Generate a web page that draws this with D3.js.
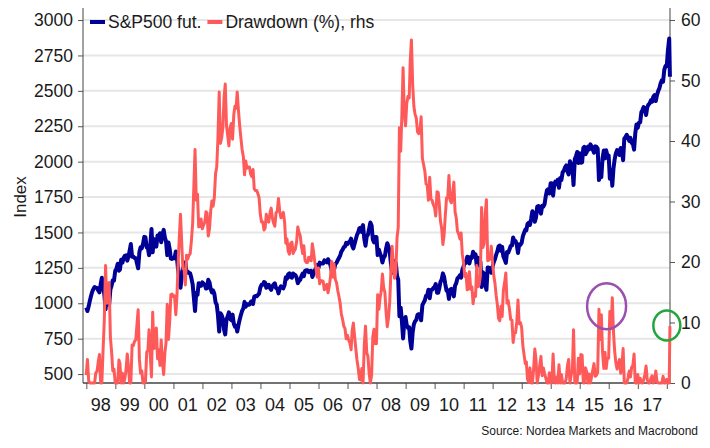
<!DOCTYPE html>
<html>
<head>
<meta charset="utf-8">
<script src="https://cdn.jsdelivr.net/npm/d3@7"></script>
<style>
  body { margin: 0; background: #fff; }
  svg { display: block; font-family: "Liberation Sans", Arial, sans-serif; }
</style>
</head>
<body>
<div id="chart"></div>
<script>
const width = 710
const height = 448

// S&P500 futures, two readings a month (15th and month end), from Dec 1997
const spx = [
  970,
  945, 980, 1020, 1049, 1080, 1101, 1115, 1111, 1108, 1090, 1077, 1133, 1180, 1120, 1065, 957, 1030, 1017, 990, 1098, 1125, 1163, 1160, 1229,
  1243, 1279, 1230, 1238, 1307, 1286, 1320, 1335, 1338, 1301, 1330, 1372, 1418, 1328, 1330, 1320, 1318, 1282, 1247, 1362, 1396, 1389, 1418, 1469,
  1465, 1394, 1389, 1340, 1400, 1525, 1360, 1452, 1450, 1400, 1478, 1455, 1495, 1431, 1484, 1518, 1465, 1437, 1340, 1429, 1383, 1315, 1313, 1320,
  1318, 1366, 1315, 1240, 1173, 1110, 1183, 1249, 1250, 1290, 1215, 1224, 1215, 1211, 1178, 1134, 1040, 945, 1075, 1060, 1142, 1139, 1123, 1148,
  1138, 1130, 1104, 1107, 1166, 1147, 1102, 1077, 1091, 1067, 1007, 990, 918, 800, 930, 916, 890, 815, 780, 885, 910, 936, 890, 880,
  920, 856, 834, 841, 800, 848, 885, 917, 946, 964, 1010, 975, 994, 990, 990, 1008, 1015, 996, 1046, 1051, 1050, 1058, 1068, 1112,
  1130, 1131, 1150, 1145, 1110, 1126, 1130, 1107, 1095, 1121, 1133, 1141, 1107, 1102, 1070, 1104, 1120, 1115, 1105, 1130, 1184, 1174, 1205, 1212,
  1185, 1181, 1210, 1204, 1200, 1181, 1142, 1157, 1165, 1192, 1210, 1191, 1228, 1234, 1233, 1220, 1228, 1229, 1186, 1207, 1232, 1249, 1270, 1248,
  1287, 1280, 1280, 1281, 1303, 1295, 1289, 1311, 1295, 1270, 1230, 1270, 1237, 1277, 1285, 1304, 1320, 1336, 1365, 1378, 1396, 1401, 1427, 1418,
  1431, 1438, 1456, 1407, 1387, 1421, 1452, 1482, 1501, 1531, 1533, 1503, 1552, 1455, 1406, 1474, 1484, 1527, 1570, 1549, 1451, 1430, 1468, 1468,
  1340, 1379, 1349, 1331, 1288, 1323, 1334, 1386, 1424, 1400, 1360, 1280, 1215, 1267, 1298, 1283, 1193, 1166, 908, 969, 873, 752, 870, 903,
  845, 826, 830, 735, 680, 798, 852, 873, 882, 919, 923, 919, 880, 987, 1004, 1021, 1053, 1057, 1096, 1036, 1093, 1096, 1107, 1115,
  1136, 1074, 1075, 1104, 1150, 1169, 1211, 1187, 1136, 1089, 1090, 1031, 1096, 1102, 1080, 1049, 1125, 1141, 1176, 1183, 1197, 1181, 1235, 1258,
  1293, 1286, 1328, 1327, 1281, 1326, 1320, 1364, 1337, 1345, 1265, 1321, 1316, 1292, 1115, 1219, 1209, 1131, 1095, 1253, 1251, 1247, 1215, 1258,
  1290, 1312, 1344, 1366, 1402, 1408, 1370, 1398, 1330, 1310, 1285, 1362, 1357, 1379, 1405, 1407, 1465, 1441, 1440, 1412, 1355, 1416, 1413, 1426,
  1472, 1498, 1520, 1515, 1560, 1569, 1553, 1598, 1650, 1631, 1575, 1606, 1682, 1686, 1661, 1633, 1688, 1682, 1698, 1757, 1798, 1806, 1775, 1848,
  1848, 1760, 1838, 1859, 1841, 1872, 1815, 1884, 1870, 1924, 1937, 1960, 1973, 1931, 1910, 2003, 1985, 1972, 1835, 2018, 2039, 2068, 1990, 2059,
  1992, 1995, 2096, 2105, 2053, 2068, 2106, 2086, 2122, 2107, 2084, 2063, 2108, 2104, 2092, 1870, 1978, 1890, 2023, 2079, 2023, 2080, 2043, 2044,
  1880, 1940, 1830, 1948, 2015, 2060, 2081, 2065, 2047, 2097, 2071, 2010, 2162, 2174, 2190, 2171, 2147, 2168, 2133, 2126, 2085, 2199, 2262, 2239,
  2275, 2279, 2350, 2364, 2385, 2363, 2329, 2384, 2403, 2412, 2433, 2423, 2459, 2470, 2428, 2472, 2500, 2519, 2553, 2575, 2565, 2648, 2675, 2674,
  2786, 2870, 2600
]

// drawdown from the running peak, %, same dates
const drawdown = [
  1.3,
  3.9, 0.3, 0, 0, 0, 0, 0, 1.7, 1.9, 3.5, 4.7, 0, 0, 5.6, 10.3, 19.4, 13.2, 14.3, 16.6, 7.5, 5.2, 2.0, 2.3, 0,
  0, 0, 3.8, 3.2, 0, 1.6, 0, 0.7, 2.1, 4.8, 2.7, 0, 0, 6.3, 6.2, 6.9, 7.1, 9.6, 12.1, 3.9, 1.6, 2.0, 0, 0,
  0.3, 5.1, 5.4, 8.8, 4.7, 1.0, 11.7, 5.7, 5.8, 9.1, 4.0, 5.5, 2.9, 7.1, 3.6, 1.4, 4.9, 6.7, 13.0, 7.2, 10.2, 14.6, 14.7, 14.3,
  14.4, 11.3, 14.6, 19.5, 23.8, 27.9, 23.2, 18.9, 18.8, 16.2, 21.1, 20.5, 21.1, 21.4, 23.5, 26.4, 32.5, 38.6, 30.2, 31.2, 25.8, 26.0, 27.1, 25.5,
  26.1, 26.6, 28.3, 28.1, 24.3, 25.5, 28.4, 30.1, 29.2, 30.7, 34.6, 35.7, 40.4, 48.1, 39.6, 40.5, 42.2, 47.1, 49.4, 42.5, 40.9, 39.2, 42.2, 42.9,
  40.3, 44.4, 45.8, 45.4, 48.1, 44.9, 42.5, 40.5, 38.6, 37.4, 34.4, 36.7, 35.5, 35.7, 35.7, 34.5, 34.1, 35.3, 32.1, 31.8, 31.8, 31.3, 30.6, 27.8,
  26.6, 26.6, 25.3, 25.6, 27.9, 26.9, 26.6, 28.1, 28.9, 27.2, 26.4, 25.9, 28.1, 28.4, 30.5, 28.3, 27.3, 27.6, 28.2, 26.6, 23.1, 23.8, 21.8, 21.3,
  23.1, 23.3, 21.4, 21.8, 22.1, 23.3, 25.8, 24.9, 24.4, 22.6, 21.4, 22.7, 20.3, 19.9, 19.9, 20.8, 20.3, 20.2, 23.0, 21.6, 20.0, 18.9, 17.5, 19.0,
  16.4, 16.9, 16.9, 16.8, 15.4, 15.9, 16.3, 14.9, 15.9, 17.5, 20.1, 17.5, 19.7, 17.1, 16.6, 15.3, 14.3, 13.2, 11.4, 10.5, 9.4, 9.0, 7.3, 7.9,
  7.1, 6.6, 5.5, 8.6, 9.9, 7.7, 5.7, 3.8, 2.5, 0.6, 0.5, 2.4, 0, 6.3, 9.4, 5.0, 4.4, 1.6, 0, 1.3, 7.6, 8.9, 6.5, 6.5,
  14.6, 12.2, 14.1, 15.2, 18.0, 15.7, 15.0, 11.7, 9.3, 10.8, 13.4, 18.5, 22.6, 19.3, 17.3, 18.3, 24.0, 25.7, 42.2, 38.3, 44.4, 52.1, 44.6, 42.5,
  46.2, 47.4, 47.1, 53.2, 56.7, 49.2, 45.7, 44.4, 43.8, 41.5, 41.2, 41.5, 44.0, 37.1, 36.1, 35.0, 32.9, 32.7, 30.2, 34.0, 30.4, 30.2, 29.5, 29.0,
  27.6, 31.6, 31.5, 29.7, 26.8, 25.5, 22.9, 24.4, 27.6, 30.6, 30.6, 34.3, 30.2, 29.8, 31.2, 33.2, 28.3, 27.3, 25.1, 24.6, 23.8, 24.8, 21.3, 19.9,
  17.6, 18.1, 15.4, 15.5, 18.4, 15.5, 15.9, 13.1, 14.8, 14.3, 19.4, 15.9, 16.2, 17.7, 29.0, 22.4, 23.0, 28.0, 30.3, 20.2, 20.3, 20.6, 22.6, 19.9,
  17.8, 16.4, 14.4, 13.0, 10.7, 10.3, 12.7, 11.0, 15.3, 16.6, 18.2, 13.2, 13.6, 12.2, 10.5, 10.4, 6.7, 8.2, 8.3, 10.1, 13.7, 9.8, 10.0, 9.2,
  6.2, 4.6, 3.2, 3.5, 0.6, 0.1, 2.5, 0, 0, 2.3, 5.6, 3.8, 0, 1.3, 2.8, 4.4, 1.2, 2.5, 1.6, 0.8, 0, 0, 1.7, 0,
  0, 4.8, 0.5, 0, 1.0, 0, 3.0, 0, 1.4, 0, 0, 0, 0.7, 2.9, 3.9, 0, 1.3, 1.9, 8.8, 0, 0, 0, 4.1, 1.5,
  4.7, 4.6, 0, 0, 2.5, 1.8, 0, 1.5, 0, 1.1, 2.2, 3.2, 1.1, 1.3, 1.8, 12.2, 7.2, 11.3, 5.1, 2.4, 5.1, 2.4, 4.1, 4.1,
  11.8, 9.0, 14.1, 8.6, 5.4, 3.3, 2.3, 3.1, 3.9, 1.6, 2.8, 5.7, 0, 0, 0, 0.9, 2.0, 1.0, 2.6, 2.9, 4.8, 0, 0, 1.4,
  0, 0.8, 0, 0, 0.5, 1.4, 2.8, 0.5, 0, 0, 0.8, 1.2, 0, 0.3, 2.0, 0.2, 0, 0, 0, 0, 1.1, 0, 0, 0.6,
  0, 0, 9.4
]

const yearLabels = ["98", "99", "00", "01", "02", "03", "04", "05", "06", "07",
                    "08", "09", "10", "11", "12", "13", "14", "15", "16", "17"]
const leftTicks = [500, 750, 1000, 1250, 1500, 1750, 2000, 2250, 2500, 2750, 3000]
const rightTicks = [0, 10, 20, 30, 40, 50, 60]

// dates: 31 Dec 1997, then the 15th and the last day of every month, then early 2018
const dates = [new Date(Date.UTC(1997, 11, 31))]
d3.utcMonth.range(new Date(Date.UTC(1998, 0, 1)), new Date(Date.UTC(2018, 0, 1))).forEach(m => {
    dates.push(d3.utcDay.offset(m, 14))
    dates.push(d3.utcDay.offset(d3.utcMonth.offset(m, 1), -1))
})
;["2018-01-15", "2018-01-31", "2018-02-09"].forEach(s => dates.push(new Date(s)))

const plotLeft = 83, plotRight = 670, plotTop = 8, plotBottom = 383

const x = d3.scaleUtc()
    .domain([new Date(Date.UTC(1997, 10, 20)), new Date(Date.UTC(2018, 1, 10))])
    .range([plotLeft, plotRight])
const yL = d3.scaleLinear().domain([437, 3085]).range([plotBottom, plotTop])
const yR = d3.scaleLinear().domain([0, 61.98]).range([plotBottom, plotTop])

const svg = d3.select("#chart")
    .append("svg")
    .attr("width", width)
    .attr("height", height)

// grid lines follow the left axis
svg.append("g")
    .selectAll("line")
    .data(leftTicks)
    .enter()
    .append("line")
    .attr("x1", plotLeft)
    .attr("x2", plotRight)
    .attr("y1", d => yL(d))
    .attr("y2", d => yL(d))
    .style("stroke", "#e6e6e6")
    .style("stroke-width", 2)

// left axis
const axL = svg.append("g")
    .attr("transform", "translate(" + plotLeft + ",0)")
    .call(d3.axisLeft(yL).tickValues(leftTicks).tickFormat(d3.format("d")).tickSize(5).tickPadding(5))
axL.select(".domain").remove()

// right axis
const axR = svg.append("g")
    .attr("transform", "translate(" + plotRight + ",0)")
    .call(d3.axisRight(yR).tickValues(rightTicks).tickFormat(d3.format("d")).tickSize(5).tickPadding(6))
axR.select(".domain").remove()

// bottom axis: ticks at year starts, labels mid-year
const yearStarts = d3.range(1998, 2019).map(y => new Date(Date.UTC(y, 0, 1)))
const axB = svg.append("g")
    .attr("transform", "translate(0," + plotBottom + ")")
    .call(d3.axisBottom(x).tickValues(yearStarts).tickSize(6).tickFormat(""))
axB.select(".domain").remove()

svg.selectAll(".tick line").style("stroke", "#555")
svg.selectAll(".tick text")
    .style("font-family", "Liberation Sans, Arial, sans-serif")
    .style("font-size", "17.5px")
    .style("fill", "#1a1a1a")

svg.append("g")
    .selectAll("text")
    .data(yearLabels)
    .enter()
    .append("text")
    .attr("x", (d, i) => x(new Date(Date.UTC(1998 + i, 6, 1))))
    .attr("y", 411)
    .attr("text-anchor", "middle")
    .style("font-size", "18px")
    .style("fill", "#1a1a1a")
    .text(d => d)

// frame lines
svg.append("line").attr("x1", plotLeft).attr("x2", plotLeft).attr("y1", plotTop).attr("y2", plotBottom)
    .style("stroke", "#444").style("stroke-width", 1)
svg.append("line").attr("x1", plotRight).attr("x2", plotRight).attr("y1", plotTop).attr("y2", plotBottom)
    .style("stroke", "#444").style("stroke-width", 1)
svg.append("line").attr("x1", plotLeft).attr("x2", plotRight).attr("y1", plotBottom).attr("y2", plotBottom)
    .style("stroke", "#444").style("stroke-width", 1.5)

// series
const lineL = d3.line().x((d, i) => x(dates[i])).y(d => yL(d))
const lineR = d3.line().x((d, i) => x(dates[i])).y(d => yR(d))

svg.append("path")
    .datum(spx)
    .attr("d", lineL)
    .style("fill", "none")
    .style("stroke", "#000096")
    .style("stroke-width", 4)
    .style("stroke-linejoin", "round")

svg.append("path")
    .datum(drawdown)
    .attr("d", lineR)
    .style("fill", "none")
    .style("stroke", "#ff5a5a")
    .style("stroke-width", 3)
    .style("stroke-linejoin", "round")

// annotation circles
svg.append("ellipse")
    .attr("cx", x(new Date(Date.UTC(2015, 11, 5))))
    .attr("cy", yR(12.7))
    .attr("rx", 19.5)
    .attr("ry", 23)
    .style("fill", "none")
    .style("stroke", "#9b4fb0")
    .style("stroke-width", 2.5)

svg.append("ellipse")
    .attr("cx", x(new Date(Date.UTC(2018, 0, 1))))
    .attr("cy", yR(9.5))
    .attr("rx", 13.5)
    .attr("ry", 15)
    .style("fill", "none")
    .style("stroke", "#23a53e")
    .style("stroke-width", 2.5)

// legend
const legend = [
    { name: "S&P500 fut.", color: "#000096" },
    { name: "Drawdown (%), rhs", color: "#ff5a5a" }
]
let lx = 90
legend.forEach(l => {
    svg.append("line")
        .attr("x1", lx).attr("x2", lx + 15)
        .attr("y1", 22).attr("y2", 22)
        .style("stroke", l.color)
        .style("stroke-width", 4)
    const t = svg.append("text")
        .attr("x", lx + 18)
        .attr("y", 28)
        .style("font-size", "17.5px")
        .style("fill", "#1a1a1a")
        .text(l.name)
    lx += 18 + t.node().getComputedTextLength() + 6
})

// y title
svg.append("text")
    .attr("transform", "translate(26,197) rotate(-90)")
    .attr("text-anchor", "middle")
    .style("font-size", "17px")
    .style("fill", "#1a1a1a")
    .text("Index")

svg.append("text")
    .attr("x", 698)
    .attr("y", 435)
    .attr("text-anchor", "end")
    .style("font-size", "12px")
    .style("fill", "#1a1a1a")
    .text("Source: Nordea Markets and Macrobond")
</script>
</body>
</html>
